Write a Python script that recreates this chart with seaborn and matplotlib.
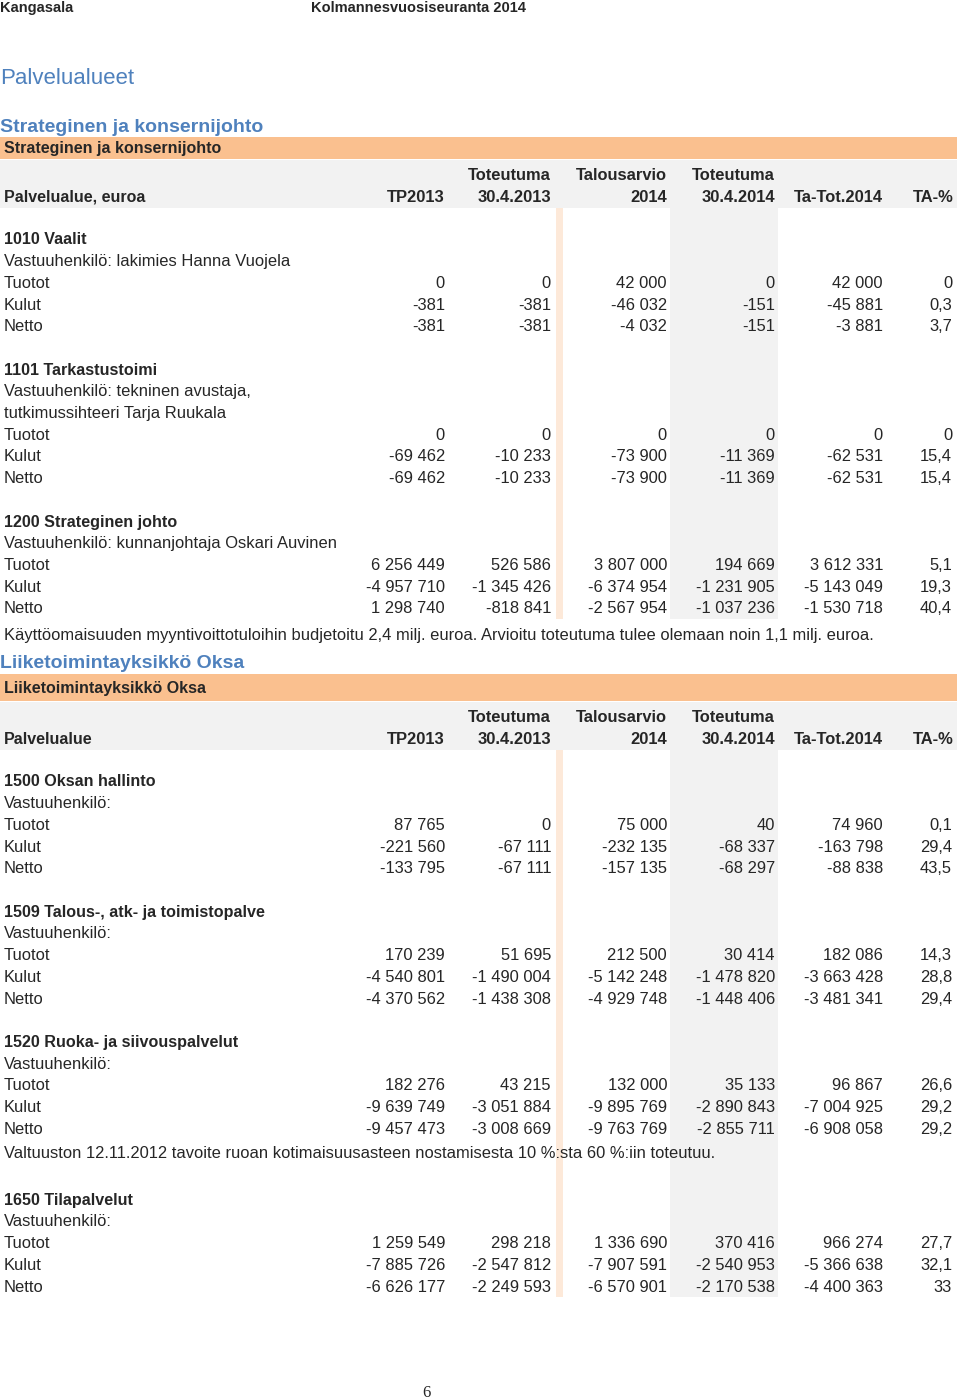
import matplotlib
matplotlib.use("Agg")
import matplotlib.pyplot as plt
from matplotlib.patches import Rectangle
import seaborn as sns

# page texts
page_left = "Kangasala"
page_mid = "Kolmannesvuosiseuranta 2014"
page_title = "Palvelualueet"
page_number = "6"

col_top = ["", "", "Toteutuma", "Talousarvio", "Toteutuma", "", ""]
col_bottom = ["TP2013", "30.4.2013", "2014", "30.4.2014", "Ta-Tot.2014", "TA-%"]
row_names = ["Tuotot", "Kulut", "Netto"]

# section 1
s1_title = "Strateginen ja konsernijohto"
s1_header = "Palvelualue, euroa"
s1_units = ["1010 Vaalit", "1101 Tarkastustoimi", "1200 Strateginen johto"]
s1_people = [
    ["Vastuuhenkilö: lakimies Hanna Vuojela"],
    ["Vastuuhenkilö: tekninen avustaja,", "tutkimussihteeri Tarja Ruukala"],
    ["Vastuuhenkilö: kunnanjohtaja Oskari Auvinen"],
]
s1_values = [
    [[0, 0, 42000, 0, 42000], [-381, -381, -46032, -151, -45881], [-381, -381, -4032, -151, -3881]],
    [[0, 0, 0, 0, 0], [-69462, -10233, -73900, -11369, -62531], [-69462, -10233, -73900, -11369, -62531]],
    [[6256449, 526586, 3807000, 194669, 3612331],
     [-4957710, -1345426, -6374954, -1231905, -5143049],
     [1298740, -818841, -2567954, -1037236, -1530718]],
]
s1_pct = [[0, 0.3, 3.7], [0, 15.4, 15.4], [5.1, 19.3, 40.4]]
s1_note = ("Käyttöomaisuuden myyntivoittotuloihin budjetoitu 2,4 milj. euroa. "
           "Arvioitu toteutuma tulee olemaan noin 1,1 milj. euroa.")

# section 2
s2_title = "Liiketoimintayksikkö Oksa"
s2_header = "Palvelualue"
s2_units = ["1500 Oksan hallinto", "1509 Talous-, atk- ja toimistopalve",
            "1520 Ruoka- ja siivouspalvelut", "1650 Tilapalvelut"]
s2_people = [["Vastuuhenkilö:"], ["Vastuuhenkilö:"], ["Vastuuhenkilö:"], ["Vastuuhenkilö:"]]
s2_values = [
    [[87765, 0, 75000, 40, 74960], [-221560, -67111, -232135, -68337, -163798],
     [-133795, -67111, -157135, -68297, -88838]],
    [[170239, 51695, 212500, 30414, 182086], [-4540801, -1490004, -5142248, -1478820, -3663428],
     [-4370562, -1438308, -4929748, -1448406, -3481341]],
    [[182276, 43215, 132000, 35133, 96867], [-9639749, -3051884, -9895769, -2890843, -7004925],
     [-9457473, -3008669, -9763769, -2855711, -6908058]],
    [[1259549, 298218, 1336690, 370416, 966274], [-7885726, -2547812, -7907591, -2540953, -5366638],
     [-6626177, -2249593, -6570901, -2170538, -4400363]],
]
s2_pct = [[0.1, 29.4, 43.5], [14.3, 28.8, 29.4], [26.6, 29.2, 29.2], [27.7, 32.1, 33]]
s2_note = "Valtuuston 12.11.2012 tavoite ruoan kotimaisuusasteen nostamisesta 10 %:sta 60 %:iin toteutuu."
s2_note_after = 2  # note follows the third unit

BLUE = "#4f81bd"
ORANGE = "#fac08f"
PEACH = "#fde9d9"
GREY = "#f2f2f2"
COLS = [445, 551, 667, 775, 883, 952]
STEP = 21.7
FS = 11.9
FS_UNIT = 11.6
FS_BAND = 11.5
DY = 1  # small nudge so text sits like in the pdf


def fmt_num(v):
    return f"{v:,}".replace(",", " ")


def fmt_pct(v):
    if float(v).is_integer():
        return str(int(v))
    return f"{v:.1f}".replace(".", ",")


def put(ax, x, y, s, **kw):
    kw.setdefault("fontsize", FS)
    ax.text(x, y + DY, s, va="center", **kw)


def draw_section(ax, y, title, header, units, people, values, pct, note, note_after,
                 band_h, note_gap, note_next):
    put(ax, 0, y + 1, title, color=BLUE, fontsize=14, fontweight="bold")
    band_top = y + 12
    ax.add_patch(Rectangle((0, band_top), 957, band_h, color=ORANGE, lw=0))
    put(ax, 4, band_top + band_h / 2, title, fontsize=FS_BAND, fontweight="bold")
    head_top = band_top + band_h + 1
    ax.add_patch(Rectangle((0, head_top), 957, 48, color=GREY, lw=0))
    put(ax, 4, head_top + 36, header, fontsize=FS_BAND, fontweight="bold")
    for i, lab in enumerate(col_bottom):
        x = COLS[i] + (2 if i == 5 else 0)
        put(ax, x, head_top + 36, lab, fontweight="bold", ha="right")
        if col_top[i + 1]:
            put(ax, x, head_top + 14, col_top[i + 1], fontweight="bold", ha="right")
    cur = head_top + 79
    data_top = head_top + 48
    for u in range(len(units)):
        put(ax, 4, cur, units[u], fontsize=FS_UNIT, fontweight="bold")
        cur += STEP
        for line in people[u]:
            put(ax, 4, cur, line)
            cur += STEP
        for r in range(3):
            put(ax, 4, cur, row_names[r])
            for c in range(5):
                put(ax, COLS[c], cur, fmt_num(values[u][r][c]), ha="right")
            put(ax, COLS[5], cur, fmt_pct(pct[u][r]), ha="right")
            cur += STEP
        last = cur - STEP
        if u == note_after:
            put(ax, 4, last + note_gap, note)
            cur = last + note_gap + note_next
        else:
            cur += STEP
    end = last + 11
    ax.add_patch(Rectangle((670, data_top), 108, end - data_top, color=GREY, lw=0, zorder=0))
    ax.add_patch(Rectangle((556, head_top), 7, end - head_top, color=PEACH, lw=0, zorder=0.5))
    return end


sns.set_style("white")
plt.rcParams["font.family"] = ["Liberation Sans", "DejaVu Sans"]

fig = plt.figure(figsize=(9.6, 14), dpi=100)
ax = fig.add_axes([0, 0, 1, 1])
ax.set_xlim(0, 960)
ax.set_ylim(1400, 0)
ax.axis("off")

put(ax, 0, 7, page_left, fontsize=10.5, fontweight="bold")
put(ax, 311, 7, page_mid, fontsize=10.5, fontweight="bold")
put(ax, 0, 78, page_title, fontsize=16, color=BLUE)

draw_section(ax, 125, s1_title, s1_header, s1_units, s1_people, s1_values, s1_pct,
             s1_note, 2, 22, 27, 0)
draw_section(ax, 662, s2_title, s2_header, s2_units, s2_people, s2_values, s2_pct,
             s2_note, s2_note_after, 27, 24, 47)

put(ax, 426, 1392, page_number, fontsize=12, family=["Liberation Serif", "DejaVu Serif"],
    ha="center")

fig.savefig("out.png", dpi=100, facecolor="white")
